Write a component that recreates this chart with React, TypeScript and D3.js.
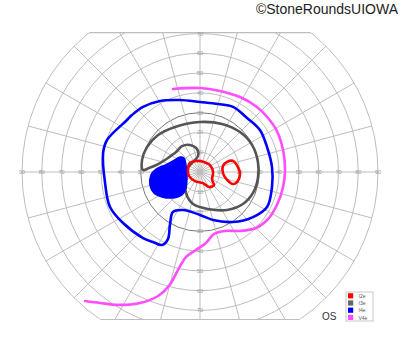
import React from "react";
import * as d3 from "d3";

// Isopters as [x (deg, + = right), y (deg, + = up)] in visual-field coordinates
const I4eOuter: [number, number][] = [
  [-36.9, 26.3], [-47.0, 16.2], [-49.0, 9.6], [-48.0, -5.6], [-45.5, -17.7], [-38.9, -25.8],
  [-28.8, -33.4], [-23.8, -35.4], [-19.2, -36.9], [-16.2, -33.9], [-15.2, -26.8], [-13.7, -20.2],
  [-8.6, -19.2], [0, -21.7], [6.6, -24.3], [16.7, -25.3], [26.8, -22.8], [33.9, -17.7],
  [36.4, -7.6], [36.4, 2.5], [33.9, 12.6], [30.3, 21.2], [23.8, 27.3], [16.7, 32.9],
  [9.1, 34.4], [0, 35.4], [-10.1, 36.4], [-20.2, 35.9], [-28.8, 32.9], [-34.4, 28.8],
];
const I4eScotoma: [number, number][] = [
  [-25.3, -6.6], [-24.8, -1.5], [-22.2, 1.5], [-17.7, 3.5], [-13.7, 5.6], [-10.1, 7.6],
  [-8.1, 7.1], [-7.1, 3.5], [-6.6, -2.5], [-7.1, -8.1], [-9.1, -11.6], [-13.7, -13.1],
  [-19.2, -12.6], [-23.3, -10.6],
];
const I3e: [number, number][] = [
  [-28.8, 1.0], [-29.3, 6.1], [-26.8, 12.6], [-21.2, 18.7], [-12.6, 22.8], [0, 25.3],
  [11.1, 24.3], [20.2, 20.2], [26.3, 13.7], [29.3, 5.1], [29.3, -3.0], [26.8, -10.6],
  [21.7, -16.2], [13.7, -19.2], [4.0, -18.7], [-3.5, -16.2], [-7.1, -10.6], [-7.1, -4.0],
  [-6.1, 2.0], [-3.5, 5.1], [-1.0, 8.1], [-1.5, 11.6], [-5.1, 13.7], [-9.1, 13.1],
  [-12.1, 10.1], [-16.2, 7.1], [-21.2, 4.0], [-25.8, 2.0],
];
const I2eA: [number, number][] = [
  [-6.1, 1.0], [-5.1, 4.6], [-1.5, 5.6], [2.0, 5.1], [5.1, 3.5], [6.6, 0], [6.1, -4.0],
  [7.1, -6.6], [4.6, -7.6], [1.5, -5.6], [-2.5, -4.6], [-5.6, -2.0],
];
const I2eB: [number, number][] = [
  [13.7, 5.1], [16.7, 5.6], [19.2, 2.5], [20.2, -1.0], [18.7, -5.1], [16.7, -6.1],
  [13.7, -4.0], [11.6, -0.5], [11.6, 3.0],
];
const V4e: [number, number][] = [
  [-13.7, 42.0], [0, 42.5], [10.1, 41.0], [20.2, 37.9], [28.8, 32.9], [34.4, 27.3],
  [38.9, 20.7], [42.0, 11.1], [43.0, 1.0], [42.0, -7.6], [38.9, -16.7], [34.4, -23.8],
  [28.3, -28.3], [20.2, -29.8], [12.6, -29.8], [7.1, -31.3], [3.0, -35.9], [-2.0, -39.4],
  [-7.1, -43.0], [-11.1, -49.5], [-15.7, -57.6], [-21.2, -62.7], [-30.3, -66.2],
  [-41.5, -67.2], [-50.6, -66.2], [-58.1, -65.2],
];

const ringValues = [10, 20, 30, 40, 50, 60, 70, 80, 90];
const spokeAngles = d3.range(0, 360, 15);
const hLabels = [10, 20, 30, 40, 50, 60, 70, 80, 90];
const vLabels = [10, 20, 30, 40, 50, 60, 70];
const legendLabels = ["I2e", "I3e", "I4e", "V4e"];
const legendColors = ["#ff0000", "#666666", "#0000ff", "#ff4dff"];

const W = 400;
const H = 352;
const cx = 200;
const cy = 172;
const RMAX = 178;
const clipTop = 32.7;
const clipBottom = 319.5;

export default function App() {
  const r = d3.scaleLinear().domain([0, 90]).range([0, RMAX]);
  const x = d3.scaleLinear().domain([-90, 90]).range([cx - RMAX, cx + RMAX]);
  const y = d3.scaleLinear().domain([-90, 90]).range([cy + RMAX, cy - RMAX]);
  const closed = d3
    .line<[number, number]>()
    .x((d) => x(d[0]))
    .y((d) => y(d[1]))
    .curve(d3.curveCatmullRomClosed.alpha(0.5));
  const open = d3
    .line<[number, number]>()
    .x((d) => x(d[0]))
    .y((d) => y(d[1]))
    .curve(d3.curveCatmullRom.alpha(0.5));
  const R = r(90);
  const topHalf = Math.sqrt(R * R - (cy - clipTop) ** 2);
  const botHalf = Math.sqrt(R * R - (clipBottom - cy) ** 2);
  const grid = "#bdbdbd";
  return (
    <svg
      width={W}
      height={H}
      style={{ position: "absolute", left: 0, top: 0, background: "#fff" }}
      fontFamily="Liberation Sans, Arial, sans-serif"
    >
      <defs>
        <clipPath id="fieldClip">
          <rect x={0} y={clipTop} width={W} height={clipBottom - clipTop} />
        </clipPath>
      </defs>
      <g clipPath="url(#fieldClip)">
        <g transform={`translate(${cx},${cy})`}>
          {ringValues.map((v) => (
            <circle
              key={v}
              r={r(v)}
              fill="none"
              stroke={v === 30 ? "#777" : grid}
              strokeWidth={1}
            />
          ))}
          {spokeAngles.map((a) => {
            const t = (a * Math.PI) / 180;
            return (
              <line
                key={a}
                x1={0}
                y1={0}
                x2={R * Math.cos(t)}
                y2={-R * Math.sin(t)}
                stroke={grid}
                strokeWidth={1}
              />
            );
          })}
        </g>
      </g>
      <line x1={cx - topHalf} x2={cx + topHalf} y1={clipTop} y2={clipTop} stroke={grid} strokeWidth={1.2} />
      <line x1={cx - botHalf} x2={cx + botHalf} y1={clipBottom} y2={clipBottom} stroke={grid} strokeWidth={1.2} />
      <g transform={`translate(${cx},${cy})`} fontSize={5.5} fill="#999" textAnchor="middle" dominantBaseline="central">
        {hLabels.map((v) => (
          <React.Fragment key={"h" + v}>
            <text x={-r(v)} y={0}>{v}</text>
            <text x={r(v)} y={0}>{v}</text>
          </React.Fragment>
        ))}
        {vLabels.map((v) => (
          <React.Fragment key={"v" + v}>
            <text x={0} y={-r(v)}>{v}</text>
            <text x={0} y={r(v)}>{v}</text>
          </React.Fragment>
        ))}
      </g>
      <g fill="none" strokeWidth={2.6} strokeLinejoin="round" strokeLinecap="round">
        <path d={open(V4e) || ""} stroke={legendColors[3]} />
        <path d={closed(I4eOuter) || ""} stroke={legendColors[2]} />
        <path d={closed(I3e) || ""} stroke="#555" />
        <path d={closed(I4eScotoma) || ""} stroke={legendColors[2]} fill={legendColors[2]} strokeWidth={1.5} />
        <path d={closed(I2eA) || ""} stroke={legendColors[0]} />
        <path d={closed(I2eB) || ""} stroke={legendColors[0]} />
      </g>
      <text x={398} y={13.5} textAnchor="end" fontSize={14} fill="#222">
        ©StoneRoundsUIOWA
      </text>
      <text x={322} y={320} fontSize={10} fill="#333">OS</text>
      <g>
        <rect x={346} y={292} width={27} height={29} fill="#fff" stroke="#bbb" strokeWidth={0.8} />
        {legendLabels.map((l, i) => (
          <g key={l} transform={`translate(348,${293.2 + i * 7.2})`}>
            <rect width={5.2} height={5.2} fill={legendColors[i]} />
            <text x={10.5} y={2.8} fontSize={5} fill="#555" dominantBaseline="central">{l}</text>
          </g>
        ))}
      </g>
    </svg>
  );
}
